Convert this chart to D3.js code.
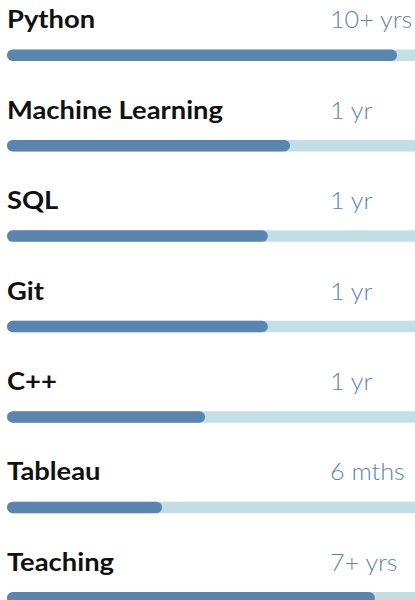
<!DOCTYPE html>
<html>
<head>
<meta charset="utf-8">
<script src="https://cdn.jsdelivr.net/npm/d3@7"></script>
<style>
html,body{margin:0;padding:0;background:#fff;overflow:hidden;}
svg{display:block;}
</style>
</head>
<body>
<svg id="chart" width="415" height="600"></svg>
<script>
const skills = ["Python", "Machine Learning", "SQL", "Git", "C++", "Tableau", "Teaching"];
const durations = ["10+ yrs", "1 yr", "1 yr", "1 yr", "1 yr", "6 mths", "7+ yrs"];
const levels = [93.3, 67.7, 62.4, 62.4, 47.4, 37.1, 88.0];

const svg = d3.select("#chart");
const x = d3.scaleLinear().domain([0, 100]).range([7, 425]);
const y = d3.scaleBand().domain(skills).range([0, 633]).paddingInner(0).paddingOuter(0);

const barTop = 49.5, barH = 11.5, textBase = 28.3;
const labelStretch = 1.14, valueStretch = 1.05;

const g = svg.selectAll("g.row").data(skills).join("g")
  .attr("class", "row")
  .attr("transform", d => `translate(0,${y(d)})`);

g.append("rect")
  .attr("x", x(0)).attr("y", barTop)
  .attr("width", x(100) - x(0)).attr("height", barH)
  .attr("rx", barH / 2)
  .attr("fill", "#c2e0e3");

g.append("rect")
  .attr("x", x(0)).attr("y", barTop)
  .attr("width", (d, i) => x(levels[i]) - x(0)).attr("height", barH)
  .attr("rx", barH / 2)
  .attr("fill", "#5985b0");

g.append("text")
  .attr("transform", `translate(7,${textBase}) scale(${labelStretch},1)`)
  .attr("font-family", "Lato, 'Open Sans', sans-serif")
  .attr("font-weight", 700)
  .attr("font-size", 24)
  .attr("fill", "#111")
  .text(d => d);

g.append("text")
  .attr("transform", `translate(330,${textBase}) scale(${valueStretch},1)`)
  .attr("font-family", "Lato, 'Open Sans', sans-serif")
  .attr("font-weight", 300)
  .attr("font-size", 24)
  .attr("fill", "#5b87b3")
  .text((d, i) => durations[i]);
</script>
</body>
</html>
